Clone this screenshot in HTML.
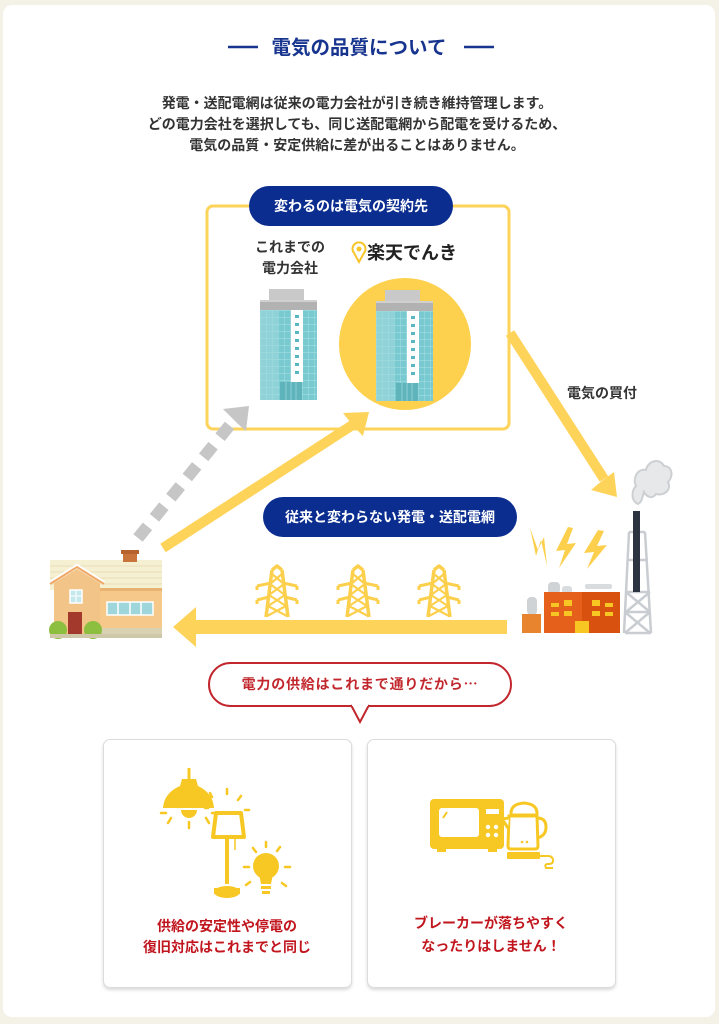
<!DOCTYPE html>
<html><head><meta charset="utf-8"><style>
html,body{margin:0;padding:0}
body{width:719px;height:1024px;background:#f4f1e7;position:relative;overflow:hidden;font-family:"Liberation Sans","Noto Sans CJK JP",sans-serif}
.card{position:absolute;left:3px;top:5px;width:712px;height:1012px;background:#fff;border-radius:9px}
.box{position:absolute;width:247px;height:247px;background:#fff;border:1px solid #dcdcdc;border-radius:7px;box-shadow:0 2px 3px rgba(0,0,0,.15)}
svg{position:absolute;left:0;top:0}
</style></head><body>
<div class="card"></div>
<div class="box" style="left:103px;top:739px"></div>
<div class="box" style="left:367px;top:739px"></div>
<svg width="719" height="1024" viewBox="0 0 719 1024" xmlns="http://www.w3.org/2000/svg" font-family="Liberation Sans, Noto Sans CJK JP, sans-serif" font-weight="bold">
<defs>
<pattern id="grid" width="6" height="7" patternUnits="userSpaceOnUse">
<rect width="6" height="7" fill="#79c9d0"/>
<path d="M0 0H6M0 0V7" stroke="#ace1e5" stroke-width="0.9"/>
</pattern>
<g id="bld">
<rect x="9" y="0" width="35" height="11" fill="#c9c9c9"/>
<rect x="0" y="11" width="57" height="10" fill="#b2b2b2"/>
<rect x="0" y="11" width="57" height="2" fill="#d0d0d0"/>
<rect x="0" y="21" width="57" height="90" fill="url(#grid)"/>
<rect x="0" y="21" width="18" height="90" fill="#a2dade" opacity="0.55"/>
<rect x="31" y="21" width="12" height="72" fill="#fff"/>
<g fill="#5ab7bf"><rect x="35" y="26" width="4" height="3"/><rect x="35" y="34" width="4" height="3"/><rect x="35" y="42" width="4" height="3"/><rect x="35" y="50" width="4" height="3"/><rect x="35" y="58" width="4" height="3"/><rect x="35" y="66" width="4" height="3"/><rect x="35" y="74" width="4" height="3"/><rect x="35" y="82" width="4" height="3"/></g>
<rect x="20" y="93" width="22" height="18" fill="#5fb3ba"/>
<path d="M26 93V111M31 93V111M36 93V111" stroke="#8fd0d5" stroke-width="1"/>
</g>
<g id="tower" fill="none" stroke="#fcd04d" stroke-width="3.5" stroke-linejoin="round">
<path d="M-5 0 L-11 47 M5 0 L11 47 M-5 0 L0 -4 L5 0"/>
<path d="M-20 16 L-6 13 M20 16 L6 13 M-20 16 V20 M20 16 V20 M-20 30 L-8 27 M20 30 L8 27 M-20 30 V34 M20 30 V34" stroke-width="3"/>
<path d="M-5 4 L7 14 L-8 25 L9 36 L-10 46 M5 4 L-7 14 L8 25 L-9 36 L10 46" stroke-width="2.2"/>
</g>
</defs>

<!-- Title -->
<path d="M228 47H258M464 47H494" stroke="#17348f" stroke-width="2.5"/>
<text x="359" y="54" text-anchor="middle" font-size="19.5" fill="#17348f">電気の品質について</text>
<g font-size="14" fill="#333" text-anchor="middle">
<text x="357" y="108">発電・送配電網は従来の電力会社が引き続き維持管理します。</text>
<text x="357" y="129">どの電力会社を選択しても、同じ送配電網から配電を受けるため、</text>
<text x="357" y="150">電気の品質・安定供給に差が出ることはありません。</text>
</g>

<!-- Yellow frame -->
<rect x="207" y="206" width="302" height="223" rx="6" fill="none" stroke="#fdd35a" stroke-width="3"/>
<rect x="249" y="186" width="204" height="40" rx="20" fill="#0b2d8f"/>
<text x="351" y="211" text-anchor="middle" font-size="14" fill="#fff">変わるのは電気の契約先</text>

<text x="290" y="252" text-anchor="middle" font-size="14" fill="#333">これまでの</text>
<text x="290" y="273" text-anchor="middle" font-size="14" fill="#333">電力会社</text>

<!-- logo -->
<path d="M359 262 L354 253 A6.5 6.5 0 1 1 364 253 Z" fill="#fff" stroke="#f6c62a" stroke-width="2"/>
<circle cx="359" cy="249" r="2.5" fill="#f6c62a"/>
<text x="367" y="259" font-size="18" fill="#222">楽天でんき</text>

<use href="#bld" x="260" y="289"/>
<circle cx="405" cy="344" r="66" fill="#fdd14d"/>
<use href="#bld" x="376" y="290"/>

<!-- arrow to factory -->
<path d="M510 333 L604 479" stroke="#fdd35a" stroke-width="10"/>
<path d="M617 497 L591 490 L603 480 L614 472 Z" fill="#fdd35a"/>
<text x="567" y="398" font-size="14" fill="#333">電気の買付</text>

<!-- gray dashed arrow -->
<path d="M138 538 L234 420" stroke="#c6c6c6" stroke-width="12" stroke-dasharray="15 11"/>
<path d="M249 406 L223 409 L231 417 L238 424 L246 431 Z" fill="#c6c6c6"/>

<!-- yellow arrow from house -->
<path d="M163 548 L354 424" stroke="#fdd35a" stroke-width="10"/>
<path d="M369 412 L343 413 L350 422 L356 429 L363 436 Z" fill="#fdd35a"/>

<!-- badge 2 -->
<rect x="263" y="497" width="254" height="40" rx="20" fill="#0b2d8f"/>
<text x="390" y="522" text-anchor="middle" font-size="14" fill="#fff">従来と変わらない発電・送配電網</text>

<!-- towers -->
<use href="#tower" x="277" y="570"/>
<use href="#tower" x="358" y="570"/>
<use href="#tower" x="439" y="570"/>

<!-- long arrow -->
<rect x="194" y="620" width="313" height="14" fill="#fdd35a"/>
<path d="M173 627 L196 607 L196 647 Z" fill="#fdd35a"/>

<!-- house -->
<rect x="50" y="560" width="112" height="30" fill="#f6f0d2"/>
<path d="M50 566H162M50 572H162M50 578H162M50 584H162" stroke="#e6ddb8" stroke-width="1"/>
<rect x="123" y="553" width="14" height="9" fill="#c8743a"/>
<rect x="121" y="550" width="18" height="4" fill="#b5622d"/>
<rect x="100" y="588" width="62" height="42" fill="#f6c98a"/>
<rect x="100" y="588" width="62" height="3" fill="#e8b273"/>
<rect x="107" y="602" width="46" height="13" fill="#9fd6dc" stroke="#fff" stroke-width="1.5"/>
<path d="M118 602V615M130 602V615M141 602V615" stroke="#fff" stroke-width="1.5"/>
<rect x="100" y="628" width="62" height="10" fill="#d8d2b3"/>
<path d="M50 583 L77 566 L104 583" fill="none" stroke="#fff" stroke-width="4"/>
<path d="M54 583 L77 569 L100 583 L100 638 L54 638 Z" fill="#f3c488"/>
<path d="M50 584 L77 567 L104 584" fill="none" stroke="#f0a766" stroke-width="2"/>
<rect x="70" y="590" width="12" height="13" fill="#c5e8ec" stroke="#fff" stroke-width="1.5"/>
<path d="M76 590V603M70 596H82" stroke="#fff" stroke-width="1"/>
<rect x="68" y="612" width="14" height="22" fill="#a3392d"/>
<circle cx="58" cy="630" r="9" fill="#8cbf3f"/>
<circle cx="93" cy="630" r="9" fill="#8cbf3f"/>
<rect x="50" y="634" width="112" height="4" fill="#cfc8a8"/>

<!-- lightning -->
<g fill="#fcd04d">
<path d="M530 528 L536 556 L541 540 L547 566 L544 537 L538 550 Z"/>
<path d="M568 527 L556 551 L565 550 L559 568 L576 543 L567 544 L573 528 Z"/>
<path d="M598 530 L584 553 L594 552 L587 569 L607 545 L597 546 L604 531 Z"/>
</g>

<!-- smoke -->
<path d="M638 504 C630 500 632 490 636 486 C632 478 638 468 646 470 C648 460 660 458 664 466 C672 466 674 476 668 482 C672 490 664 496 656 494 C652 500 646 496 644 492 C642 498 642 502 638 504 Z" fill="#e6e8ea" stroke="#cdd0d3" stroke-width="2"/>

<!-- chimney tower -->
<g stroke="#c9cdd1" stroke-width="2.5" fill="none">
<path d="M629 532 L624 633 M645 532 L651 633 M629 532 H645 M627 560 H648 M626 592 H650 M625 612 H650 M625 633 H651"/>
<path d="M626 592 L650 612 M650 592 L626 612 M625 612 L650 633 M650 612 L625 633"/>
</g>
<rect x="633" y="511" width="7" height="81" fill="#2b3440"/>

<!-- factory -->
<rect x="527" y="597" width="10" height="18" rx="4" fill="#cfd3d6"/>
<rect x="522" y="614" width="19" height="19" fill="#e8842e"/>
<rect x="548" y="582" width="12" height="12" rx="4" fill="#cfd3d6"/>
<rect x="562" y="586" width="10" height="8" rx="3" fill="#d9dcde"/>
<rect x="585" y="584" width="27" height="5" rx="2" fill="#d9dcde"/>
<rect x="544" y="592" width="38" height="41" fill="#e5601a"/>
<rect x="582" y="592" width="38" height="41" fill="#d9510f"/>
<g fill="#f7c623">
<rect x="551" y="603" width="8" height="4"/><rect x="564" y="600" width="8" height="6"/><rect x="551" y="612" width="8" height="4"/><rect x="564" y="611" width="8" height="5"/>
<rect x="592" y="600" width="8" height="6"/><rect x="605" y="603" width="8" height="4"/><rect x="592" y="611" width="8" height="5"/><rect x="605" y="612" width="8" height="4"/>
<rect x="575" y="621" width="14" height="12"/>
</g>

<!-- speech bubble -->
<rect x="209" y="663" width="302" height="43" rx="21.5" fill="#fff" stroke="#c1272d" stroke-width="2"/>
<path d="M351 705 L360 722 L369 705" fill="#fff" stroke="#c1272d" stroke-width="2"/>
<rect x="352" y="703" width="16" height="3" fill="#fff"/>
<text x="360" y="689" text-anchor="middle" font-size="14" fill="#c1272d" letter-spacing="0.8">電力の供給はこれまで通りだから<tspan font-family="Noto Sans CJK JP, sans-serif">…</tspan></text>

<!-- card 1 icons -->
<g fill="#f7c824" stroke="#f7c824">
<line x1="189" y1="768" x2="189" y2="780" stroke-width="3"/>
<path d="M182 779 H196 L198 786 Q213 793 214 808 H163 Q164 793 180 786 Z" stroke="none"/>
<path d="M181 810 A8 8 0 0 0 197 810 Z" stroke="none"/>
<g stroke-width="2.5" stroke-linecap="round" fill="none">
<path d="M171 818 L168 823 M189 822 V828 M206 818 L209 823 M166 813 H161 M212 813 H217"/>
<path d="M212 797 L210 793 M227 794 V789 M238 800 L241 796 M245 810 H249 M208 808 H205"/>
<path d="M249 867 H244 M256 852 L253 848 M266 847 V842 M277 851 L280 847 M285 867 H290 M282 883 L286 886 M250 882 L246 885"/>
</g>
<path d="M216 813 H241 L244 837 H213 Z" fill="#fff" stroke-width="4" stroke-linejoin="round"/>
<line x1="227" y1="837" x2="227" y2="884" stroke-width="4"/>
<line x1="235" y1="838" x2="235" y2="850" stroke-width="1.5"/>
<ellipse cx="227" cy="892" rx="13" ry="6" stroke="none"/>
<rect x="214" y="888" width="26" height="6" stroke="none"/>
<circle cx="266" cy="866" r="13" stroke="none"/>
<path d="M259 874 L261 884 H271 L273 874 Z" stroke="none"/>
<rect x="261" y="886" width="10" height="3" stroke="none"/>
<rect x="262" y="891" width="8" height="3" stroke="none"/>
</g>
<text x="227" y="931" text-anchor="middle" font-size="14" fill="#c1161e">供給の安定性や停電の</text>
<text x="227" y="952" text-anchor="middle" font-size="14" fill="#c1161e">復旧対応はこれまでと同じ</text>

<!-- card 2 icons -->
<g fill="#f7c824">
<rect x="430" y="799" width="74" height="50" rx="4"/>
<rect x="439" y="808" width="40" height="29" rx="3" fill="#fff"/>
<path d="M443 818 L447 812" stroke="#f7c824" stroke-width="2"/>
<rect x="486" y="809" width="13" height="5" fill="#fff"/>
<circle cx="488" cy="827" r="2.2" fill="#fff"/><circle cx="496" cy="827" r="2.2" fill="#fff"/>
<circle cx="488" cy="835" r="2.2" fill="#fff"/><circle cx="496" cy="835" r="2.2" fill="#fff"/>
<rect x="437" y="848" width="9" height="4"/><rect x="488" y="848" width="9" height="4"/>
<path d="M511 815 Q510 804 524 803 Q538 804 537 815 Z" fill="#fff" stroke="#f7c824" stroke-width="3"/>
<path d="M509 816 H537 L538 846 Q538 849 535 849 H511 Q508 849 508 846 Z" fill="#fff" stroke="#f7c824" stroke-width="3"/>
<path d="M509 818 L502 819 L508 828" fill="#fff" stroke="#f7c824" stroke-width="3" stroke-linejoin="round"/>
<path d="M537 818 Q546 818 546 827 Q546 836 537 838" fill="none" stroke="#f7c824" stroke-width="3"/>
<circle cx="522" cy="842" r="1.3" fill="#f7c824"/><circle cx="527" cy="842" r="1.3" fill="#f7c824"/>
<rect x="507" y="852" width="33" height="7" rx="1"/>
<path d="M540 856 H548 Q553 856 553 861 Q553 864 548 864 Q544 864 546 868 H553" fill="none" stroke="#f7c824" stroke-width="2"/>
</g>
<text x="491" y="928" text-anchor="middle" font-size="14" fill="#c1161e">ブレーカーが落ちやすく</text>
<text x="491" y="951" text-anchor="middle" font-size="14" fill="#c1161e">なったりはしません！</text>
</svg>
</body></html>
